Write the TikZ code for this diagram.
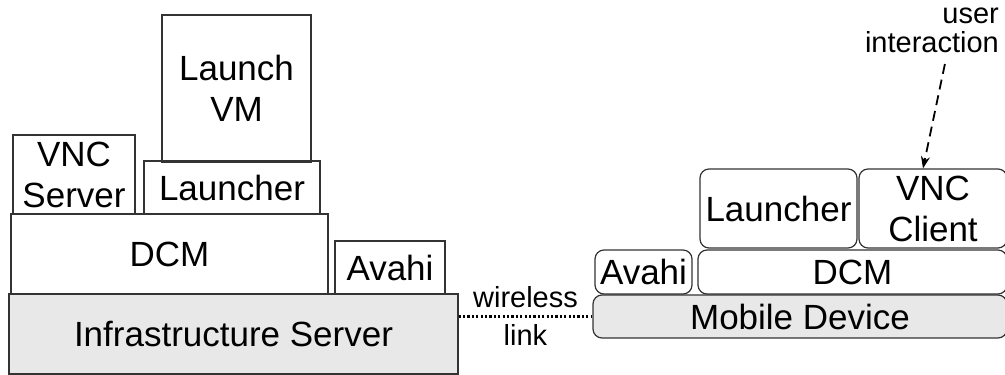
\documentclass[tikz,border=0pt]{standalone}
\usepackage{fontspec}
\setmainfont{Liberation Sans}
\usetikzlibrary{arrows.meta}

\definecolor{hwgray}{HTML}{E8E8E8}

\begin{document}
\begin{tikzpicture}[x=1pt, y=-1pt,
  layer/.style={draw=black!80, line width=1.2pt, inner sep=0pt, align=center,
    font=\fontsize{35}{41}\selectfont},
  hardware/.style={layer, fill=hwgray},
  roundlayer/.style={layer, rounded corners=9pt},
  note/.style={inner sep=0pt, font=\fontsize{29}{29}\selectfont},
  radiolink/.style={line width=2.6pt, dash pattern=on 2.2pt off 2.2pt},
  userarrow/.style={line width=1.8pt, dash pattern=on 10pt off 6pt,
    -{Stealth[length=12pt, width=9pt]}}]

  \useasboundingbox (0,0) rectangle (1005,375);

  % Infrastructure side (square boxes)
  \node[hardware, minimum width=449pt, minimum height=80pt] (infra) at (233.5,334) {Infrastructure Server};
  \node[layer, minimum width=317pt, minimum height=80pt] (dcmsrv) at (169.5,254) {DCM};
  \node[layer, minimum width=110pt, minimum height=53pt] (avahisrv) at (390,267.5) {Avahi};
  \node[layer, minimum width=122pt, minimum height=79pt] (vncsrv) at (74,174.5) {VNC\\Server};
  \node[layer, minimum width=176pt, minimum height=53pt] (launchsrv) at (232,187.5) {Launcher};
  \node[layer, minimum width=149pt, minimum height=147pt] (launchvm) at (236.5,88.5) {Launch\\VM};

  % Mobile side (rounded boxes)
  \node[hardware, rounded corners=9pt, minimum width=414pt, minimum height=43pt] (mobile) at (800,316.5) {Mobile Device};
  \node[roundlayer, minimum width=97pt, minimum height=44pt] (avahimob) at (643.5,272) {Avahi};
  \node[roundlayer, minimum width=309pt, minimum height=44pt] (dcmmob) at (852.5,272) {DCM};
  \node[roundlayer, minimum width=157pt, minimum height=79pt] (launchmob) at (778.5,208.5) {Launcher};
  \node[roundlayer, minimum width=148pt, minimum height=79pt] (vncclient) at (933,208.5) {VNC\\Client};

  % links
  \draw[radiolink] (mobile.west -| infra.east) -- (mobile.west)
    node[note, midway, above=7pt] (wireless) {wireless}
    node[note, midway, below=7pt] (link) {link};

  \node[note, align=right, anchor=south east] (usr) at (999,53) {user\\interaction};
  \draw[userarrow] ([xshift=13pt, yshift=-11pt]usr.south) -- ([xshift=-10pt]vncclient.north);

\end{tikzpicture}
\end{document}
